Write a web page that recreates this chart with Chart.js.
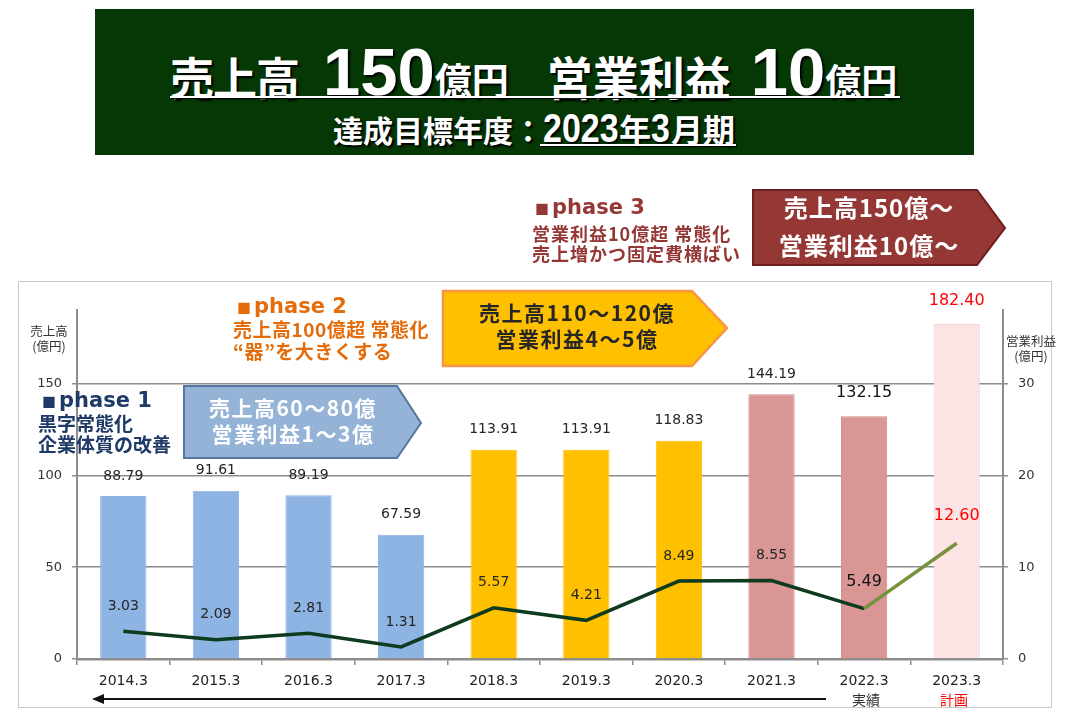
<!DOCTYPE html>
<html><head><meta charset="utf-8">
<script src="https://cdn.jsdelivr.net/npm/chart.js@4"></script>
<style>
html,body{margin:0;padding:0;background:#fff;}
body{width:1080px;height:720px;position:relative;overflow:hidden;font-family:"Noto Sans CJK JP",sans-serif;}
.abs{position:absolute;white-space:nowrap;}
#frame{position:absolute;left:18px;top:281px;width:1032px;height:425px;border:1.5px solid #c9c9c9;}
#chartWrap{position:absolute;left:0;top:0;width:1080px;height:720px;}
#hdr{position:absolute;left:95px;top:9px;width:879px;height:146px;background:#053805;}
.w{color:#fff;font-weight:700;text-shadow:2px 2px 2px #000;}
.row{display:flex;align-items:baseline;line-height:1;}
.lat{font-family:"DejaVu Sans",sans-serif;font-weight:700;}
.sq{font-family:"Noto Sans CJK JP";font-size:14px;margin-right:3px;}
.jp{font-weight:700;}
.boxtxt{font-weight:700;text-align:center;line-height:26px;}
.nar{display:inline-block;font-family:'Liberation Sans',sans-serif;font-size:40px;transform:scaleX(0.85);transform-origin:0 50%;}
</style>
</head><body>
<div id="frame"></div>
<div id="chartWrap"><canvas id="c" width="1080" height="720"></canvas></div>

<div id="hdr"></div>
<div class="abs w row" style="left:170px;top:38px;">
  <span style="font-size:44px;letter-spacing:-1px">売上高</span>
  <span style="font-family:'Liberation Sans',sans-serif;font-size:67px;margin-left:24px">150</span>
  <span style="font-size:37px">億円</span>
  <span style="font-size:46px;margin-left:38px">営業利益</span>
  <span style="font-family:'Liberation Sans',sans-serif;font-size:67px;margin-left:20px">10</span>
  <span style="font-size:36px">億円</span>
</div>
<div class="abs" style="left:170px;top:96px;width:730px;height:2px;background:#fff;box-shadow:1px 1px 1px #000;"></div>
<div class="abs w row" style="left:333px;top:108px;">
  <span style="font-size:30px">達成目標年度：</span>
  <span class="nar" style="width:76px">2023</span>
  <span style="font-size:32px">年</span>
  <span class="nar" style="width:20px">3</span>
  <span style="font-size:32px">月期</span>
</div>
<div class="abs" style="left:540px;top:144px;width:196px;height:2px;background:#fff;box-shadow:1px 1px 1px #000;"></div>

<svg class="abs" style="left:0;top:0" width="1080" height="720">
  <polygon points="753,190 977,190 1005,228 977,265 753,265" fill="#943735" stroke="#6B1F1E" stroke-width="2"/>
  <polygon points="443,291 692,291 727,328 692,366 443,366" fill="#FFC000" stroke="#F79646" stroke-width="2.5"/>
  <polygon points="184,386 397,386 421,423 397,458 184,458" fill="#95B3D7" stroke="#55769E" stroke-width="2"/>
  <line x1="100" y1="699" x2="826" y2="699" stroke="#111" stroke-width="2"/>
  <polygon points="92,699 104,694 104,704" fill="#111"/>
</svg>

<!-- phase 3 -->
<div class="abs" style="left:535px;top:192px;color:#953735;font-size:21px;line-height:26px;"><span class="sq">■</span><span class="lat">phase 3</span></div>
<div class="abs jp" style="left:532px;top:223px;color:#953735;font-size:18px;line-height:20px;letter-spacing:1px;">営業利益10億超 常態化<br>売上増かつ固定費横ばい</div>
<div class="abs boxtxt" style="left:753px;top:188px;width:232px;color:#fff;font-size:24px;line-height:38px;letter-spacing:1px;">売上高150億～<br>営業利益10億～</div>

<!-- phase 2 -->
<div class="abs" style="left:237px;top:291px;color:#E46C0A;font-size:21px;line-height:26px;"><span class="sq">■</span><span class="lat">phase 2</span></div>
<div class="abs jp" style="left:233px;top:318px;color:#E46C0A;font-size:19px;line-height:22px;letter-spacing:0.5px;">売上高100億超 常態化<br>“器”を大きくする</div>
<div class="abs boxtxt" style="left:443px;top:299px;width:268px;color:#262626;font-size:21px;letter-spacing:1.5px;">売上高110～120億<br>営業利益4～5億</div>

<!-- phase 1 -->
<div class="abs" style="left:42px;top:385px;color:#1F3A66;font-size:21px;line-height:26px;"><span class="sq">■</span><span class="lat">phase 1</span></div>
<div class="abs jp" style="left:38px;top:412px;color:#1F3A66;font-size:19px;line-height:21px;">黒字常態化<br>企業体質の改善</div>
<div class="abs boxtxt" style="left:184px;top:394px;width:218px;color:#fff;font-size:21px;letter-spacing:1.5px;">売上高60～80億<br>営業利益1～3億</div>

<!-- axis titles -->
<div class="abs" style="left:30px;top:323px;color:#333;font-size:12.5px;line-height:15px;text-align:center;width:38px;">売上高<br>(億円)</div>
<div class="abs" style="left:1004px;top:333px;color:#333;font-size:12.5px;line-height:15px;text-align:center;width:54px;">営業利益<br>(億円)</div>
<div class="abs" style="left:852px;top:689px;color:#333;font-size:14px;line-height:20px;">実績</div>
<div class="abs" style="left:940px;top:689px;color:#FF0000;font-size:14px;line-height:20px;">計画</div>

<script>
const categories = ['2014.3','2015.3','2016.3','2017.3','2018.3','2019.3','2020.3','2021.3','2022.3','2023.3'];
const salesValues = [88.79, 91.61, 89.19, 67.59, 113.91, 113.91, 118.83, 144.19, 132.15, 182.40];
const profitValues = [3.03, 2.09, 2.81, 1.31, 5.57, 4.21, 8.49, 8.55, 5.49, 12.60];
const phaseOf = [1,1,1,1,2,2,2,3,3,4];
const leftTicks = [0, 50, 100, 150];
const rightTicks = [0, 10, 20, 30];

const phaseFill = {1:'#8EB4E3', 2:'#FFC000', 3:'#D99694', 4:'#FCE4E4'};
const phaseEdge = {1:'#8EB4E3', 2:'#FFC000', 3:'#CF8886', 4:'#F6D3D3'};
const GRID = '#8c8c8c';
const FONT = '"DejaVu Sans", sans-serif';

const labelPlugin = {
  id: 'valueLabels',
  afterDatasetsDraw(chart) {
    const ctx = chart.ctx;
    ctx.save();
    ctx.textAlign = 'center';
    ctx.textBaseline = 'middle';
    chart.getDatasetMeta(1).data.forEach((el, i) => {
      const hi = i >= 8;
      ctx.font = (hi ? '16px ' : '14px ') + FONT;
      ctx.fillStyle = i === 9 ? '#FF0000' : (i === 8 ? '#111' : '#262626');
      ctx.fillText(salesValues[i].toFixed(2), el.x, el.y - (hi ? 23 : 20));
    });
    chart.getDatasetMeta(0).data.forEach((el, i) => {
      const hi = i >= 8;
      ctx.font = (hi ? '16px ' : '14px ') + FONT;
      ctx.fillStyle = i === 9 ? '#FF0000' : (i === 8 ? '#111' : '#262626');
      ctx.fillText(profitValues[i].toFixed(2), el.x, el.y - (hi ? 27 : 25));
    });
    ctx.restore();
  }
};

new Chart(document.getElementById('c'), {
  data: {
    labels: categories,
    datasets: [
      {
        type: 'line',
        data: profitValues,
        yAxisID: 'y1',
        borderColor: '#0E3A1E',
        borderWidth: 3.5,
        pointRadius: 0,
        tension: 0,
        order: 0,
        segment: { borderColor: c => c.p0DataIndex === 8 ? '#76923C' : '#0E3A1E' }
      },
      {
        type: 'bar',
        data: salesValues,
        yAxisID: 'y',
        backgroundColor: phaseOf.map(p => phaseFill[p]),
        borderColor: phaseOf.map(p => phaseEdge[p]),
        borderWidth: 1,
        barPercentage: 0.5,
        categoryPercentage: 1.0,
        order: 1
      }
    ]
  },
  options: {
    responsive: false,
    animation: false,
    devicePixelRatio: 1,
    layout: { padding: { top: 310, left: 0, right: 0, bottom: 0 } },
    plugins: { legend: { display: false }, tooltip: { enabled: false }, title: { display: false } },
    scales: {
      x: {
        offset: true,
        afterFit: a => { a.height = 61; },
        grid: { offset: true, drawOnChartArea: false, tickLength: 6, color: GRID, lineWidth: 1.5 },
        border: { display: true, color: GRID, width: 2.5 },
        ticks: { font: { family: FONT, size: 14 }, color: '#222', padding: 8 }
      },
      y: {
        position: 'left',
        min: 0, max: 190,
        afterFit: a => { a.width = 77; },
        afterBuildTicks: a => { a.ticks = leftTicks.map(v => ({ value: v })); },
        grid: { color: GRID, lineWidth: 1.5, tickLength: 5 },
        border: { display: true, color: GRID, width: 2 },
        ticks: { font: { family: FONT, size: 13 }, color: '#333', padding: 10 }
      },
      y1: {
        position: 'right',
        min: 0, max: 38,
        afterFit: a => { a.width = 77; },
        afterBuildTicks: a => { a.ticks = rightTicks.map(v => ({ value: v })); },
        grid: { drawOnChartArea: false, color: GRID, lineWidth: 1.5, tickLength: 5 },
        border: { display: true, color: GRID, width: 2 },
        ticks: { font: { family: FONT, size: 13 }, color: '#333', padding: 10 }
      }
    }
  },
  plugins: [labelPlugin]
});
</script>
</body></html>
